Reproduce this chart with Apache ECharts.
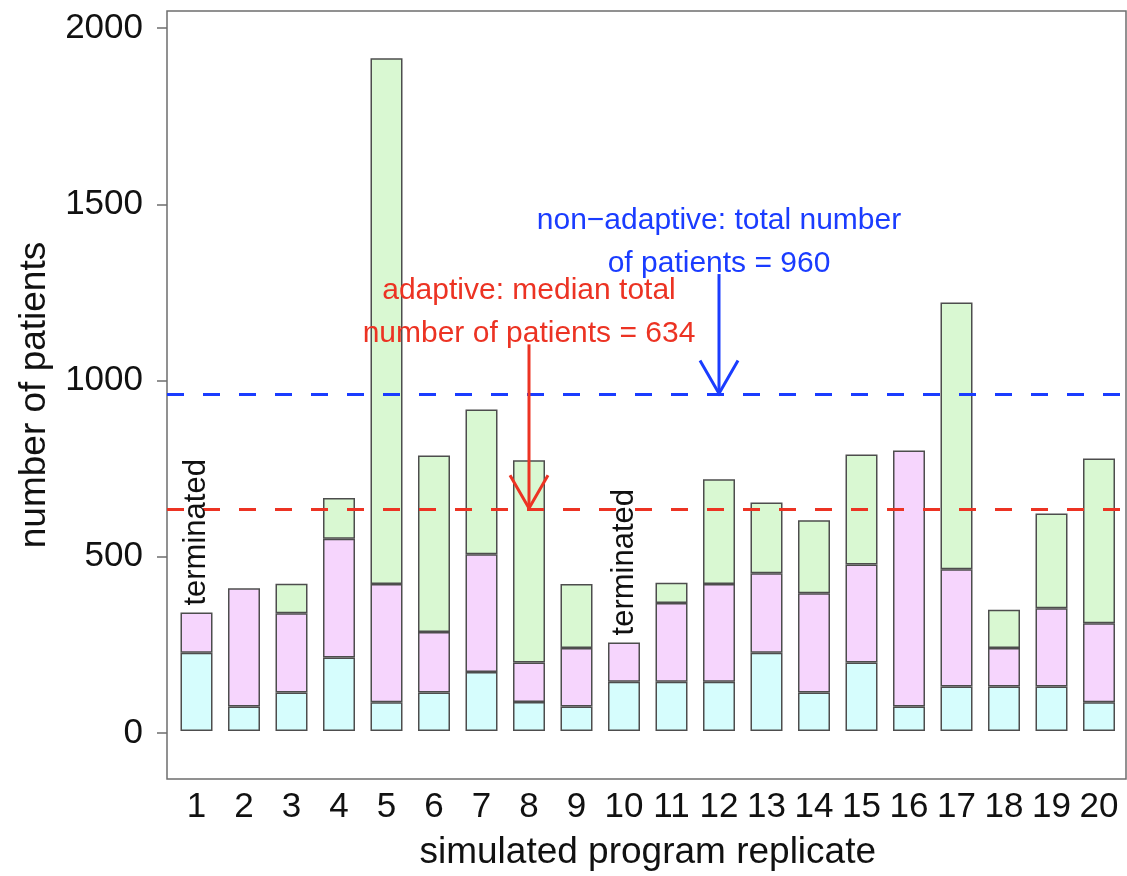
<!DOCTYPE html>
<html>
<head>
<meta charset="utf-8">
<script src="https://cdn.jsdelivr.net/npm/echarts@6/dist/echarts.min.js"></script>
<style>
  html, body { margin: 0; padding: 0; background: #fff; }
  #chart { width: 1127px; height: 876px; }
</style>
</head>
<body>
<div id="chart"></div>
<script>
// Replicates of the simulated program, and patients per stage (stacked bottom to top)
const replicates = ['1', '2', '3', '4', '5', '6', '7', '8', '9', '10', '11', '12', '13', '14', '15', '16', '17', '18', '19', '20'];
const stage1 = [223, 70, 110, 209, 82, 110, 168, 83, 70, 140, 140, 140, 223, 110, 195, 70, 127, 127, 127, 82];
const stage2 = [114, 336, 225, 338, 336, 172, 335, 112, 166, 112, 224, 278, 226, 282, 279, 728, 333, 109, 222, 225];
const stage3 = [0, 0, 84, 116, 1496, 502, 412, 575, 182, 0, 58, 298, 201, 208, 313, 0, 759, 109, 270, 468];
const terminatedReplicates = ['1', '10'];
const yTicks = [0, 500, 1000, 1500, 2000];

const nonAdaptiveTotal = 960;
const adaptiveMedian = 634;

// Annotation arrows: [replicate, start value, end value]
const arrows = [['8', 1100, adaptiveMedian], ['12', 1300, nonAdaptiveTotal]];
// Annotation texts: [replicate, value, text]
const notes = [
  ['8', 1190, 'adaptive: median total\nnumber of patients = ' + adaptiveMedian],
  ['12', 1390, 'non\u2212adaptive: total number\nof patients = ' + nonAdaptiveTotal]
];

const RED = '#ec3323';
const BLUE = '#1a3cff';
const arrowColors = [RED, BLUE];
const FONT = '"Liberation Sans", Arial, Helvetica, sans-serif';
const Y_MIN = -130.7, Y_MAX = 2048.3;

const totals = replicates.map((r, i) => stage1[i] + stage2[i] + stage3[i]);
const barStyle = (fill) => ({ color: fill, borderColor: '#4d4d4d', borderWidth: 1.5 });

const chart = echarts.init(document.getElementById('chart'), null, { renderer: 'canvas' });

chart.setOption({
  animation: false,
  backgroundColor: '#ffffff',
  grid: [
    // bar area
    { left: 172.75, top: 11, width: 950, height: 768 },
    // framed plot region holding the value axis and reference lines
    { left: 167, top: 11, width: 959, height: 768, show: true,
      borderColor: '#6e6e6e', borderWidth: 1.5, backgroundColor: 'transparent' }
  ],
  xAxis: [
    {
      type: 'category', gridIndex: 0, data: replicates, boundaryGap: true,
      name: 'simulated program replicate',
      nameLocation: 'middle',
      nameGap: 57,
      nameTextStyle: { fontFamily: FONT, fontSize: 37, color: '#111' },
      axisLine: { show: false },
      axisTick: { show: false },
      splitLine: { show: false },
      axisLabel: { interval: 0, margin: 13, fontFamily: FONT, fontSize: 35, color: '#111' }
    },
    { type: 'value', gridIndex: 1, min: 0, max: 1, show: false }
  ],
  yAxis: [
    { type: 'value', gridIndex: 0, min: Y_MIN, max: Y_MAX, show: false },
    {
      type: 'value', gridIndex: 1, min: Y_MIN, max: Y_MAX,
      name: 'number of patients',
      nameLocation: 'middle',
      nameGap: 114,
      nameRotate: 90,
      nameTextStyle: { fontFamily: FONT, fontSize: 37, color: '#111' },
      axisLine: { show: false },
      axisTick: { show: true, customValues: yTicks, length: 10, lineStyle: { color: '#6e6e6e', width: 1.5 } },
      splitLine: { show: false },
      axisLabel: {
        customValues: yTicks,
        formatter: (v) => String(v),
        margin: 24,
        fontFamily: FONT, fontSize: 35, color: '#111'
      }
    }
  ],
  series: [
    {
      name: 'stage 1', type: 'bar', stack: 'total', barWidth: 32,
      xAxisIndex: 0, yAxisIndex: 0,
      data: stage1,
      itemStyle: barStyle('#d6fdfd')
    },
    {
      name: 'stage 2', type: 'bar', stack: 'total', barWidth: 32,
      xAxisIndex: 0, yAxisIndex: 0,
      data: stage2,
      itemStyle: barStyle('#f6d5fd')
    },
    {
      name: 'stage 3', type: 'bar', stack: 'total', barWidth: 32,
      xAxisIndex: 0, yAxisIndex: 0,
      data: stage3.map(v => (v > 0 ? v : '-')),
      itemStyle: barStyle('#d9f8d2')
    },
    {
      // dashed reference lines across the whole plot region
      type: 'line', xAxisIndex: 1, yAxisIndex: 1,
      data: [],
      markLine: {
        silent: true,
        symbol: 'none',
        label: { show: false },
        data: [
          { yAxis: nonAdaptiveTotal, lineStyle: { color: BLUE, width: 3, type: [17, 19] } },
          { yAxis: adaptiveMedian, lineStyle: { color: RED, width: 3, type: [17, 19] } }
        ]
      }
    },
    {
      // "terminated" labels written upward just above the bar
      type: 'custom', xAxisIndex: 0, yAxisIndex: 0,
      data: terminatedReplicates.map(r => [r, totals[replicates.indexOf(r)]]),
      z: 5,
      renderItem: (params, api) => {
        const p = api.coord([api.value(0), api.value(1)]);
        return {
          type: 'text',
          x: p[0], y: p[1] - 7,
          rotation: Math.PI / 2,
          style: {
            text: 'terminated',
            textAlign: 'left', textVerticalAlign: 'middle',
            fontFamily: FONT, fontSize: 31, fill: '#111'
          }
        };
      }
    },
    {
      // open-headed arrows pointing at the reference lines
      type: 'custom', xAxisIndex: 0, yAxisIndex: 0,
      data: arrows,
      z: 6,
      renderItem: (params, api) => {
        const x = api.value(0);
        const a = api.coord([x, api.value(1)]);
        const b = api.coord([x, api.value(2)]);
        const c = arrowColors[params.dataIndex];
        return {
          type: 'group',
          children: [
            { type: 'line', shape: { x1: a[0], y1: a[1], x2: b[0], y2: b[1] }, style: { stroke: c, lineWidth: 3 } },
            { type: 'polyline', shape: { points: [[b[0] - 19, b[1] - 33], [b[0], b[1]], [b[0] + 19, b[1] - 33]] },
              style: { stroke: c, lineWidth: 3, fill: null } }
          ]
        };
      }
    },
    {
      // annotation text
      type: 'custom', xAxisIndex: 0, yAxisIndex: 0,
      data: notes.map(n => [n[0], n[1]]),
      z: 7,
      renderItem: (params, api) => {
        const p = api.coord([api.value(0), api.value(1)]);
        return {
          type: 'text',
          x: p[0], y: p[1],
          style: {
            text: notes[params.dataIndex][2],
            textAlign: 'center', textVerticalAlign: 'middle',
            lineHeight: 43,
            fontFamily: FONT, fontSize: 30,
            fill: arrowColors[params.dataIndex]
          }
        };
      }
    }
  ]
});
</script>
</body>
</html>
